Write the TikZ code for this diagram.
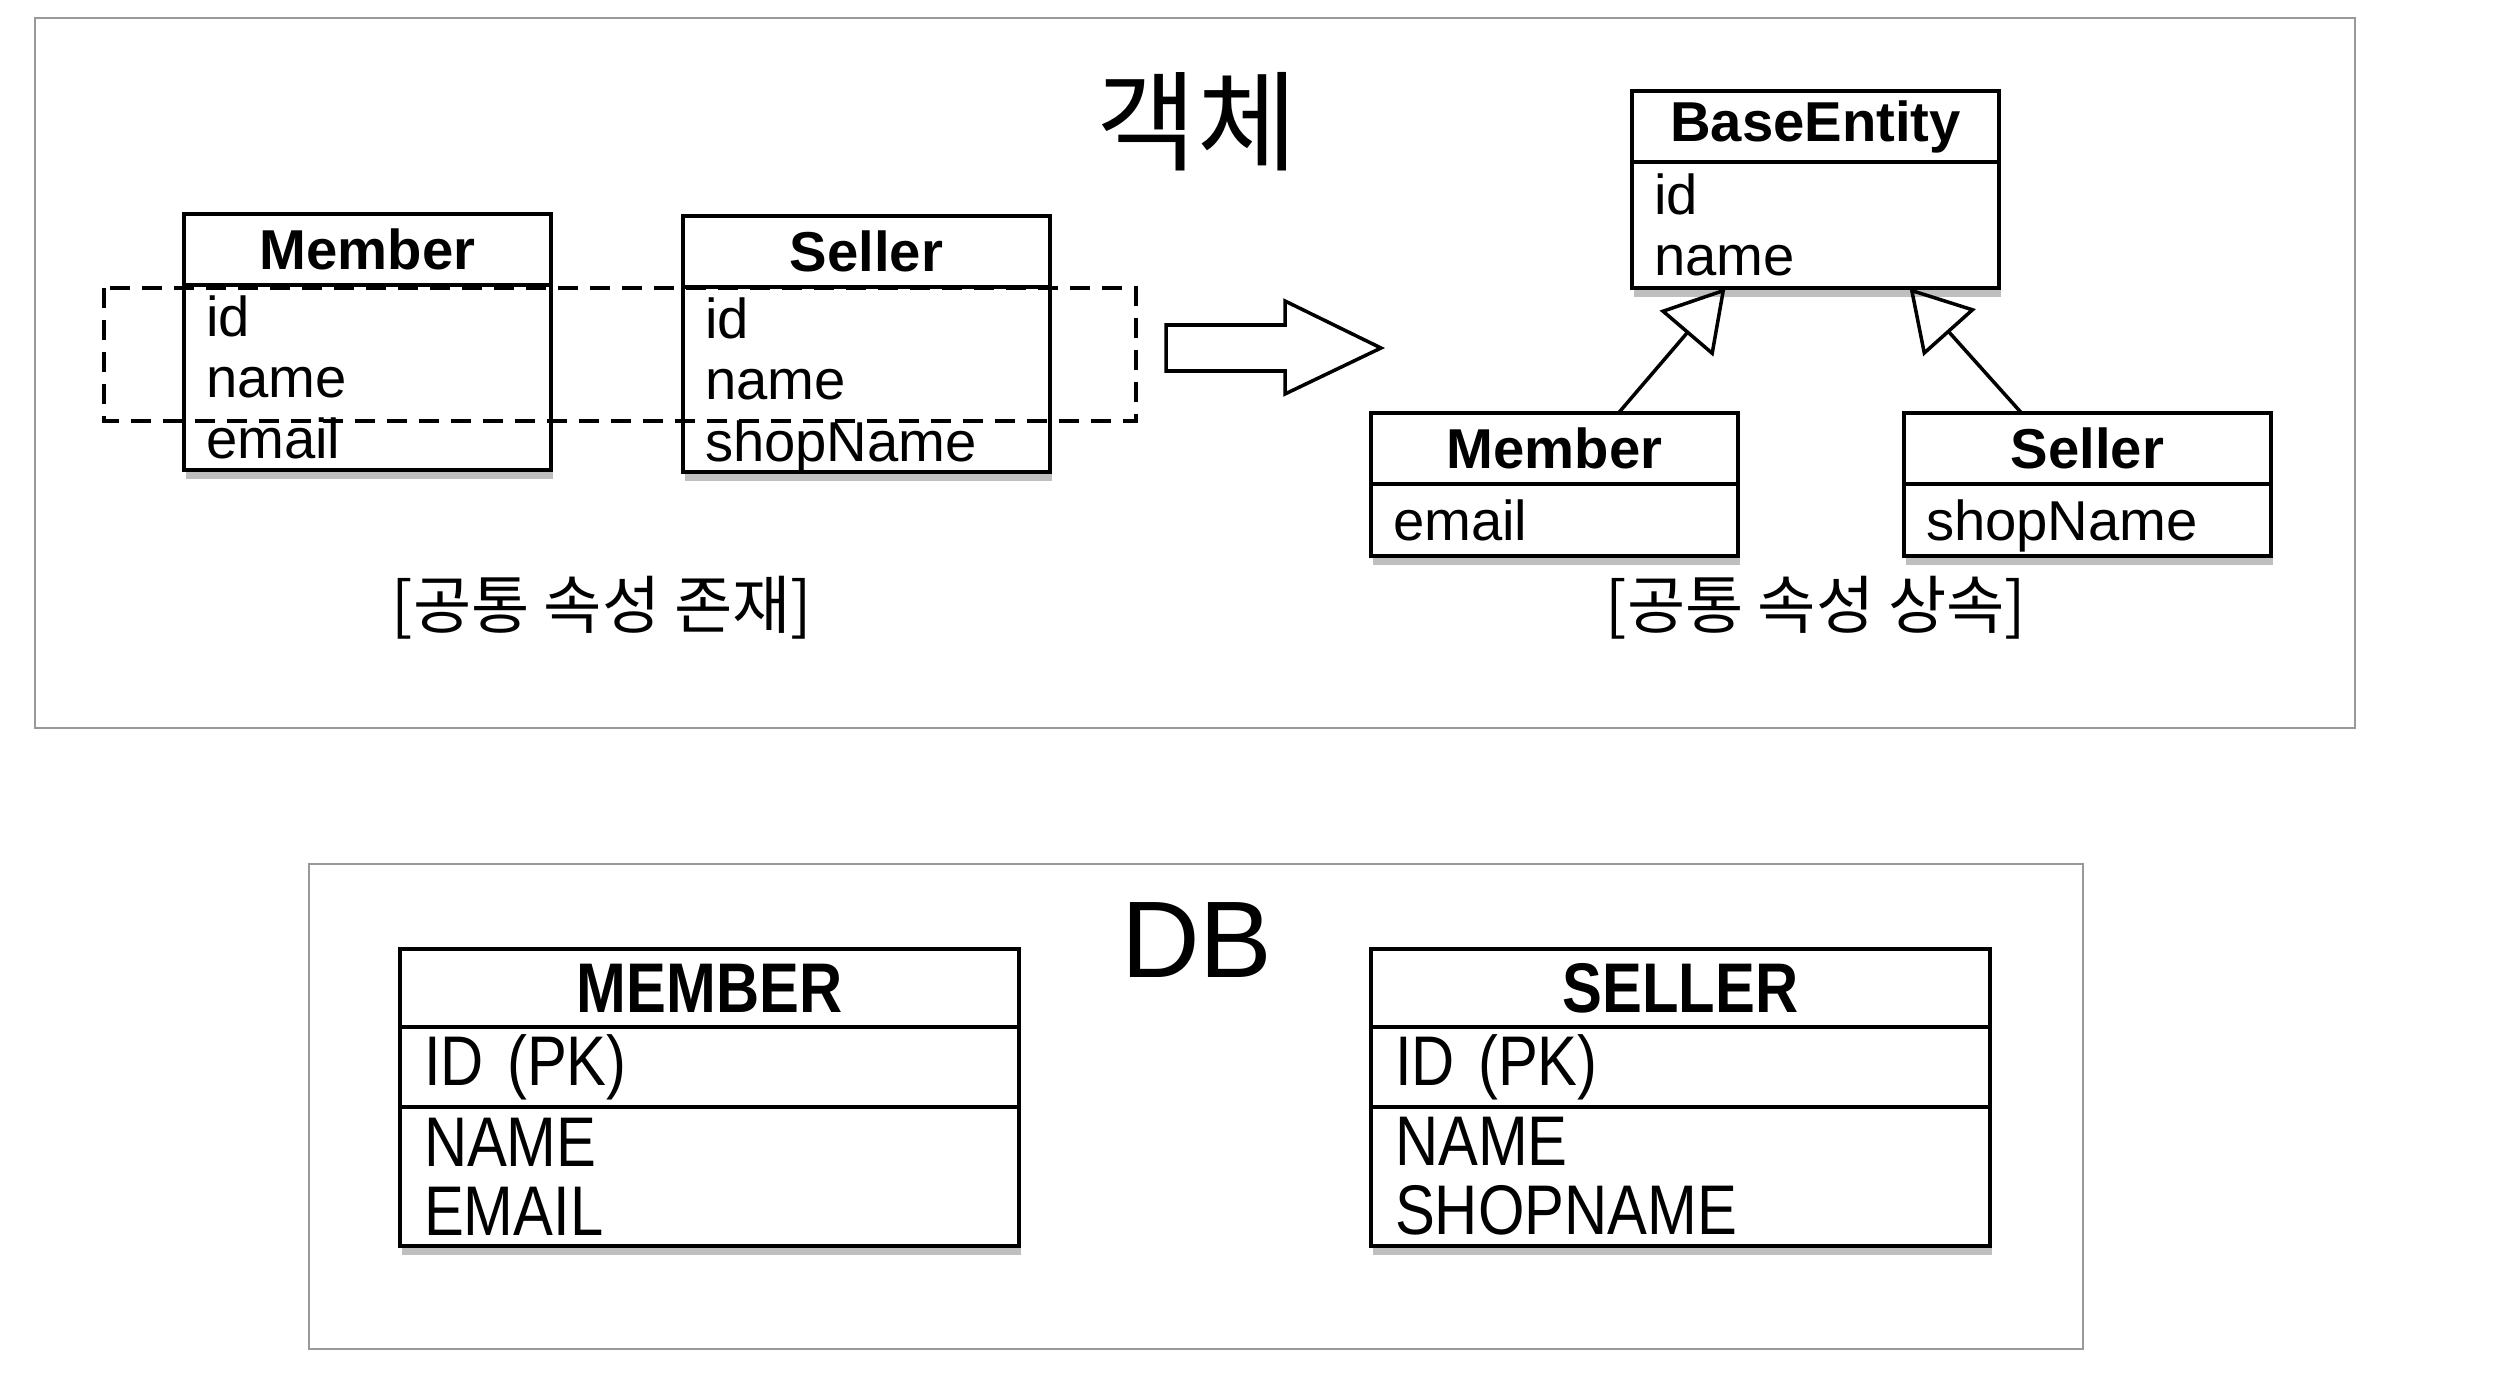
\documentclass[tikz,border=0pt]{standalone}
\usepackage{fontspec}
\setmainfont{Liberation Sans}
\newfontfamily\kofont{Noto Sans CJK KR}
\newfontfamily\dbfont[FakeStretch=0.85]{Liberation Sans}
\usetikzlibrary{positioning,shadows,arrows.meta}

\tikzset{
boxshadow/.style={drop shadow={shadow xshift=0.5pt,shadow yshift=-2.5pt,opacity=0.25,fill=black}},
classhead/.style={draw,line width=1.1pt,fill=white,outer sep=0pt,inner sep=0pt,
  minimum width=36.7mm,minimum height=7.1mm,boxshadow,
  font=\fontsize{16}{17.4}\selectfont\bfseries},
classbody/.style={draw,line width=1.1pt,fill=white,outer sep=0pt,inner xsep=2.2mm,inner ysep=0pt,
  text width=32.3mm,align=left,boxshadow,font=\fontsize{16}{17.4}\selectfont},
tablehead/.style={draw,line width=1.2pt,fill=white,outer sep=0pt,inner sep=0pt,
  minimum width=61.9mm,minimum height=7.8mm,boxshadow,
  font=\dbfont\fontsize{20}{19.6}\selectfont\bfseries},
tablerow/.style={draw,line width=1.2pt,fill=white,outer sep=0pt,inner xsep=2.4mm,inner ysep=0pt,
  text width=57.1mm,align=left,boxshadow,font=\dbfont\fontsize{20}{19.6}\selectfont}}

\begin{document}
\begin{tikzpicture}
  [x=0.1mm,y=-0.1mm,
   frame/.style={draw=black!40,line width=0.8pt},
   commonmark/.style={line width=1.2pt,dash pattern=on 2mm off 1.2mm},
   inherit/.style={line width=1pt,-{Triangle[open,length=6mm,width=7mm,line width=1pt]}},
   caption/.style={font=\kofont\fontsize{18}{18}\selectfont}]
  \useasboundingbox (0,0) rectangle (2508,1384);
  % the two panels
  \draw[frame] (35,18) rectangle (2355,728);
  \draw[frame] (309,864) rectangle (2083,1349);
  \node[font=\kofont\fontsize{31}{31}\selectfont] (objTitle) at (1197,122) {객체};
  \node[font=\fontsize{31}{31}\selectfont] (dbTitle) at (1197,940) {DB};

  % objects, fields written twice
  \node[classhead,anchor=north west] (memberHead) at (184,214) {Member};
  \node[classbody,below=0pt of memberHead,minimum height=18.5mm] (memberBody) {id\\name\\email};
  \node[classhead,anchor=north west] (sellerHead) at (683,216) {Seller};
  \node[classbody,below=0pt of sellerHead,minimum height=18.5mm] (sellerBody) {id\\name\\\raisebox{0pt}[\height][0pt]{shopName}};
  \draw[commonmark] (104,288) rectangle (1136,421);
  \node[caption] (sharedLabel) at (602,608) {[공통 속성 존재]};

  \draw[line width=1pt,fill=white] (1166,325) -- (1285,325) -- (1285,301) -- (1381,348)
    -- (1285,394) -- (1285,371) -- (1166,371) -- cycle;

  % objects, common fields in a parent
  \node[classhead,anchor=north west] (baseHead) at (1632,91) {BaseEntity};
  \node[classbody,below=0pt of baseHead,minimum height=12.6mm] (baseBody) {id\\name};
  \node[classhead,anchor=north west] (memberSubHead) at (1371,413) {Member};
  \node[classbody,below=0pt of memberSubHead,minimum height=7.2mm] (memberSubBody) {email};
  \node[classhead,anchor=north west] (sellerSubHead) at (1904,413) {Seller};
  \node[classbody,below=0pt of sellerSubHead,minimum height=7.2mm] (sellerSubBody) {\raisebox{0pt}[\height][0pt]{shopName}};
  \draw[inherit] ([xshift=6.4mm]memberSubHead.north) -- ([xshift=-9mm]baseBody.south);
  \draw[inherit] ([xshift=-6.6mm]sellerSubHead.north) -- ([xshift=9.4mm]baseBody.south);
  \node[caption] (inheritLabel) at (1816,608) {[공통 속성 상속]};

  % tables
  \node[tablehead,anchor=north west] (memberTable) at (400,949) {MEMBER};
  \node[tablerow,below=0pt of memberTable,minimum height=8mm] (memberKey) {ID (PK)};
  \node[tablerow,below=0pt of memberKey,minimum height=13.9mm] (memberCols) {NAME\\EMAIL};
  \node[tablehead,anchor=north west] (sellerTable) at (1371,949) {SELLER};
  \node[tablerow,below=0pt of sellerTable,minimum height=8mm] (sellerKey) {ID (PK)};
  \node[tablerow,below=0pt of sellerKey,minimum height=13.9mm] (sellerCols) {NAME\\SHOPNAME};
\end{tikzpicture}
\end{document}
